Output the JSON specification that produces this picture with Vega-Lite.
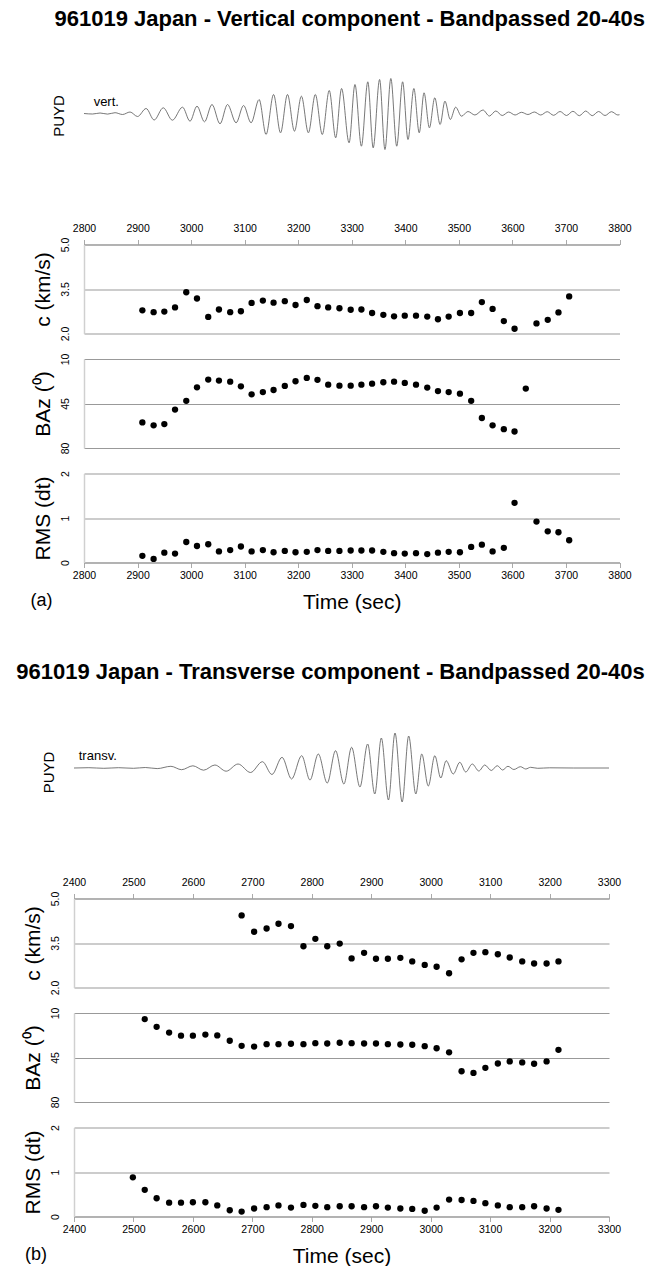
{
  "$schema": "https://vega.github.io/schema/vega-lite/v6.json",
  "background": "white",
  "padding": {"left": 16, "top": 7, "right": 0, "bottom": 0},
  "spacing": 25.5,
  "bounds": "flush",
  "resolve": {"scale": {"x": "independent", "y": "independent"}},
  "config": {
    "font": "Liberation Sans",
    "view": {"stroke": null},
    "axis": {
      "labelFontSize": 10.5,
      "labelColor": "#000",
      "titleFontSize": 21,
      "titleFontWeight": "normal",
      "titleColor": "#000",
      "gridColor": "#999",
      "gridWidth": 1,
      "domainColor": "#999",
      "tickColor": "#aaa",
      "labelOverlap": false
    },
    "axisY": {"labelAngle": -90, "ticks": false, "labelPadding": 13.5, "domainColor": "#d0d0d0", "domainWidth": 1.5, "grid": true, "titlePadding": 7, "tickCount": 3},
    "axisX": {"grid": false, "tickSize": 5, "labelFlush": false, "format": "d"},
    "title": {"color": "#000"}
  },
  "datasets": {
    "vertical": [
      {"t": 2909, "c": 2.78, "baz": 59.9, "rms": 0.15},
      {"t": 2930, "c": 2.72, "baz": 62.2, "rms": 0.08},
      {"t": 2950, "c": 2.74, "baz": 61.2, "rms": 0.22},
      {"t": 2970, "c": 2.88, "baz": 49.8, "rms": 0.2},
      {"t": 2991, "c": 3.39, "baz": 42.9, "rms": 0.46},
      {"t": 3011, "c": 3.18, "baz": 32.3, "rms": 0.37},
      {"t": 3032, "c": 2.56, "baz": 26.2, "rms": 0.41},
      {"t": 3052, "c": 2.81, "baz": 27.0, "rms": 0.25},
      {"t": 3073, "c": 2.72, "baz": 27.8, "rms": 0.28},
      {"t": 3093, "c": 2.75, "baz": 31.5, "rms": 0.36},
      {"t": 3113, "c": 3.03, "baz": 37.8, "rms": 0.25},
      {"t": 3134, "c": 3.11, "baz": 36.0, "rms": 0.28},
      {"t": 3154, "c": 3.04, "baz": 34.4, "rms": 0.23},
      {"t": 3175, "c": 3.09, "baz": 31.2, "rms": 0.26},
      {"t": 3195, "c": 2.96, "baz": 27.5, "rms": 0.23},
      {"t": 3216, "c": 3.13, "baz": 24.9, "rms": 0.24},
      {"t": 3236, "c": 2.92, "baz": 26.4, "rms": 0.28},
      {"t": 3256, "c": 2.88, "baz": 30.2, "rms": 0.26},
      {"t": 3277, "c": 2.85, "baz": 31.0, "rms": 0.26},
      {"t": 3298, "c": 2.8, "baz": 31.0, "rms": 0.27},
      {"t": 3318, "c": 2.81, "baz": 30.2, "rms": 0.27},
      {"t": 3338, "c": 2.69, "baz": 29.4, "rms": 0.27},
      {"t": 3359, "c": 2.63, "baz": 28.3, "rms": 0.24},
      {"t": 3379, "c": 2.58, "baz": 27.8, "rms": 0.21},
      {"t": 3399, "c": 2.6, "baz": 28.8, "rms": 0.2},
      {"t": 3420, "c": 2.6, "baz": 30.2, "rms": 0.21},
      {"t": 3441, "c": 2.57, "baz": 32.5, "rms": 0.19},
      {"t": 3461, "c": 2.48, "baz": 35.2, "rms": 0.22},
      {"t": 3481, "c": 2.57, "baz": 36.0, "rms": 0.24},
      {"t": 3502, "c": 2.69, "baz": 37.3, "rms": 0.23},
      {"t": 3523, "c": 2.69, "baz": 42.9, "rms": 0.35},
      {"t": 3543, "c": 3.06, "baz": 56.4, "rms": 0.4},
      {"t": 3563, "c": 2.83, "baz": 62.2, "rms": 0.25},
      {"t": 3584, "c": 2.42, "baz": 65.2, "rms": 0.33},
      {"t": 3604, "c": 2.16, "baz": 67.0, "rms": 1.34},
      {"t": 3625, "c": null, "baz": 33.3, "rms": null},
      {"t": 3645, "c": 2.34, "baz": null, "rms": 0.92},
      {"t": 3666, "c": 2.46, "baz": null, "rms": 0.7},
      {"t": 3686, "c": 2.71, "baz": null, "rms": 0.68},
      {"t": 3706, "c": 3.25, "baz": null, "rms": 0.5}
    ],
    "transverse": [
      {"t": 2499, "c": null, "baz": null, "rms": 0.88},
      {"t": 2519, "c": null, "baz": 14.8, "rms": 0.6},
      {"t": 2539, "c": null, "baz": 20.9, "rms": 0.41},
      {"t": 2560, "c": null, "baz": 25.4, "rms": 0.31},
      {"t": 2580, "c": null, "baz": 27.8, "rms": 0.31},
      {"t": 2600, "c": null, "baz": 27.8, "rms": 0.32},
      {"t": 2621, "c": null, "baz": 27.0, "rms": 0.32},
      {"t": 2641, "c": null, "baz": 27.6, "rms": 0.25},
      {"t": 2662, "c": null, "baz": 31.8, "rms": 0.14},
      {"t": 2682, "c": 4.43, "baz": 35.8, "rms": 0.11},
      {"t": 2703, "c": 3.88, "baz": 36.4, "rms": 0.18},
      {"t": 2724, "c": 3.99, "baz": 34.5, "rms": 0.21},
      {"t": 2744, "c": 4.15, "baz": 34.5, "rms": 0.25},
      {"t": 2765, "c": 4.07, "baz": 34.2, "rms": 0.2},
      {"t": 2786, "c": 3.39, "baz": 34.5, "rms": 0.26},
      {"t": 2806, "c": 3.64, "baz": 33.7, "rms": 0.24},
      {"t": 2826, "c": 3.39, "baz": 34.0, "rms": 0.21},
      {"t": 2847, "c": 3.48, "baz": 33.4, "rms": 0.23},
      {"t": 2867, "c": 2.98, "baz": 33.7, "rms": 0.23},
      {"t": 2888, "c": 3.17, "baz": 34.0, "rms": 0.21},
      {"t": 2908, "c": 2.97, "baz": 34.0, "rms": 0.23},
      {"t": 2928, "c": 2.97, "baz": 34.5, "rms": 0.2},
      {"t": 2949, "c": 3.0, "baz": 34.8, "rms": 0.18},
      {"t": 2969, "c": 2.88, "baz": 35.0, "rms": 0.17},
      {"t": 2990, "c": 2.76, "baz": 36.1, "rms": 0.13},
      {"t": 3010, "c": 2.7, "baz": 37.7, "rms": 0.2},
      {"t": 3031, "c": 2.48, "baz": 40.9, "rms": 0.38},
      {"t": 3052, "c": 2.95, "baz": 55.8, "rms": 0.37},
      {"t": 3072, "c": 3.17, "baz": 57.1, "rms": 0.35},
      {"t": 3092, "c": 3.19, "baz": 53.1, "rms": 0.3},
      {"t": 3113, "c": 3.12, "baz": 49.7, "rms": 0.25},
      {"t": 3133, "c": 3.01, "baz": 48.1, "rms": 0.21},
      {"t": 3154, "c": 2.88, "baz": 48.9, "rms": 0.21},
      {"t": 3174, "c": 2.81, "baz": 49.9, "rms": 0.23},
      {"t": 3195, "c": 2.81, "baz": 48.1, "rms": 0.18},
      {"t": 3215, "c": 2.88, "baz": 39.0, "rms": 0.15}
    ],
    "trace_vert": [
      {"t": 2800, "amp": 0}, {"t": 2816, "amp": -0.5}, {"t": 2830, "amp": 0.5}, {"t": 2844, "amp": -0.6},
      {"t": 2858, "amp": 0.8}, {"t": 2872, "amp": -1}, {"t": 2886, "amp": 1.5}, {"t": 2900, "amp": -3},
      {"t": 2916, "amp": 5}, {"t": 2931, "amp": -6.5}, {"t": 2948, "amp": 5.7}, {"t": 2965, "amp": -6.7},
      {"t": 2984, "amp": 6.3}, {"t": 2998, "amp": -7.7}, {"t": 3011, "amp": 7.3}, {"t": 3025, "amp": -8.3},
      {"t": 3039, "amp": 9}, {"t": 3054, "amp": -10.3}, {"t": 3068, "amp": 9}, {"t": 3084, "amp": -9.3},
      {"t": 3098, "amp": 8}, {"t": 3112, "amp": -9.3}, {"t": 3127, "amp": 14}, {"t": 3140, "amp": -21},
      {"t": 3154, "amp": 19}, {"t": 3167, "amp": -19.3}, {"t": 3180, "amp": 19}, {"t": 3193, "amp": -17.7},
      {"t": 3206, "amp": 17.3}, {"t": 3219, "amp": -19.3}, {"t": 3232, "amp": 19}, {"t": 3245, "amp": -21},
      {"t": 3258, "amp": 23}, {"t": 3270, "amp": -24.3}, {"t": 3281, "amp": 25}, {"t": 3295, "amp": -29.3},
      {"t": 3306, "amp": 29}, {"t": 3318, "amp": -32.7}, {"t": 3330, "amp": 31.7}, {"t": 3340, "amp": -34.3},
      {"t": 3352, "amp": 34}, {"t": 3362, "amp": -36}, {"t": 3373, "amp": 35}, {"t": 3384, "amp": -32.7},
      {"t": 3395, "amp": 31.7}, {"t": 3405, "amp": -26}, {"t": 3416, "amp": 25}, {"t": 3426, "amp": -19.3},
      {"t": 3435, "amp": 20.7}, {"t": 3445, "amp": -14.3}, {"t": 3455, "amp": 15.7}, {"t": 3465, "amp": -11},
      {"t": 3474, "amp": 12.3}, {"t": 3484, "amp": -6}, {"t": 3494, "amp": 6.3}, {"t": 3505, "amp": -2.7},
      {"t": 3517, "amp": 2}, {"t": 3530, "amp": -1.5}, {"t": 3545, "amp": 3.5}, {"t": 3557, "amp": -2.5},
      {"t": 3569, "amp": 2.5}, {"t": 3581, "amp": -2}, {"t": 3593, "amp": 1.5}, {"t": 3605, "amp": -1.5},
      {"t": 3617, "amp": 1.2}, {"t": 3629, "amp": -1}, {"t": 3641, "amp": 1.5}, {"t": 3653, "amp": -1.5},
      {"t": 3665, "amp": 1.8}, {"t": 3677, "amp": -1.8}, {"t": 3689, "amp": 2}, {"t": 3701, "amp": -2},
      {"t": 3713, "amp": 2.2}, {"t": 3725, "amp": -2.2}, {"t": 3737, "amp": 2.5}, {"t": 3749, "amp": -2.2},
      {"t": 3761, "amp": 2}, {"t": 3773, "amp": -2}, {"t": 3785, "amp": 1.8}, {"t": 3797, "amp": -1.5},
      {"t": 3800, "amp": -1.2}
    ],
    "trace_trans": [
      {"t": 2400, "amp": 0}, {"t": 2425, "amp": 0.3}, {"t": 2450, "amp": -0.3}, {"t": 2475, "amp": 0.3},
      {"t": 2500, "amp": -0.3}, {"t": 2520, "amp": 0.5}, {"t": 2540, "amp": -0.6}, {"t": 2563, "amp": 1.7},
      {"t": 2581, "amp": -1.7}, {"t": 2600, "amp": 2.2}, {"t": 2618, "amp": -2.2}, {"t": 2637, "amp": 3},
      {"t": 2656, "amp": -3.2}, {"t": 2676, "amp": 4}, {"t": 2697, "amp": -4.5}, {"t": 2717, "amp": 6.3},
      {"t": 2733, "amp": -6.5}, {"t": 2750, "amp": 10.7}, {"t": 2766, "amp": -11}, {"t": 2783, "amp": 12.3},
      {"t": 2797, "amp": -12}, {"t": 2811, "amp": 14}, {"t": 2826, "amp": -15}, {"t": 2840, "amp": 17.3},
      {"t": 2854, "amp": -16}, {"t": 2867, "amp": 20.7}, {"t": 2881, "amp": -19}, {"t": 2894, "amp": 24},
      {"t": 2906, "amp": -26}, {"t": 2917, "amp": 30}, {"t": 2929, "amp": -32}, {"t": 2940, "amp": 35},
      {"t": 2952, "amp": -34}, {"t": 2963, "amp": 32}, {"t": 2975, "amp": -26}, {"t": 2985, "amp": 14},
      {"t": 2996, "amp": -18}, {"t": 3007, "amp": 12.3}, {"t": 3017, "amp": -10}, {"t": 3026, "amp": 7.3},
      {"t": 3038, "amp": -6}, {"t": 3049, "amp": 5.7}, {"t": 3059, "amp": -4}, {"t": 3070, "amp": 4},
      {"t": 3081, "amp": -3}, {"t": 3091, "amp": 3}, {"t": 3102, "amp": -2.5}, {"t": 3112, "amp": 2.3},
      {"t": 3121, "amp": -2}, {"t": 3130, "amp": 1.7}, {"t": 3140, "amp": -1.5}, {"t": 3151, "amp": 1.3},
      {"t": 3160, "amp": -1}, {"t": 3168, "amp": 0.7}, {"t": 3180, "amp": -0.3}, {"t": 3200, "amp": 0.2},
      {"t": 3240, "amp": 0}, {"t": 3300, "amp": 0}
    ]
  },
  "vconcat": [
    {
      "width": 545.5,
      "height": 150,
      "title": {"text": "961019 Japan - Vertical component - Bandpassed 20-40s", "fontSize": 22, "fontWeight": "bold", "anchor": "middle", "frame": "group", "offset": 38.5, "dx": 3},
      "layer": [
        {
          "data": {"name": "trace_vert"},
          "mark": {"type": "line", "interpolate": "monotone", "color": "#555", "strokeWidth": 0.8},
          "encoding": {
            "x": {"field": "t", "type": "quantitative", "scale": {"domain": [2800, 3800], "range": [10, 545.5], "nice": false, "zero": false}, "axis": null},
            "y": {"field": "amp", "type": "quantitative", "scale": {"domain": [-105.5, 44.5], "nice": false, "zero": false},
                  "axis": {"title": "PUYD", "offset": -10, "domain": false, "ticks": false, "labels": false, "grid": false, "titleFontSize": 15, "titlePadding": 18, "titleY": 46.5}}
          }
        },
        {
          "data": {"values": [{}]},
          "mark": {"type": "text", "text": "vert.", "align": "left", "baseline": "middle", "fontSize": 13, "color": "#000"},
          "encoding": {"x": {"datum": 2818}, "y": {"datum": 12}}
        }
      ]
    },
    {
      "width": 545.5,
      "height": 89,
      "data": {"name": "vertical"},
      "mark": {"type": "circle", "size": 40, "color": "#000", "opacity": 1},
      "encoding": {
        "x": {"field": "t", "type": "quantitative", "scale": {"domain": [2800, 3800], "range": [10, 545.5], "nice": false, "zero": false},
              "axis": {"orient": "top", "values": [2800, 2900, 3000, 3100, 3200, 3300, 3400, 3500, 3600, 3700, 3800], "title": null, "labelPadding": 6}},
        "y": {"field": "c", "type": "quantitative", "scale": {"domain": [2, 5], "nice": false, "zero": false},
              "axis": {"values": [2, 3.5, 5], "format": ".1f", "title": "c (km/s)", "offset": -10}}
      }
    },
    {
      "width": 545.5,
      "height": 89,
      "data": {"name": "vertical"},
      "mark": {"type": "circle", "size": 40, "color": "#000", "opacity": 1},
      "encoding": {
        "x": {"field": "t", "type": "quantitative", "scale": {"domain": [2800, 3800], "range": [10, 545.5], "nice": false, "zero": false}, "axis": null},
        "y": {"field": "baz", "type": "quantitative", "scale": {"domain": [10, 80], "reverse": true, "nice": false, "zero": false},
              "axis": {"values": [10, 45, 80], "format": "d", "title": "BAz (⁰)", "offset": -10}}
      }
    },
    {
      "width": 545.5,
      "height": 89,
      "title": {"text": "(a)", "orient": "bottom", "anchor": "start", "frame": "group", "fontSize": 18, "fontWeight": "normal", "offset": -20, "dx": -43.5},
      "data": {"name": "vertical"},
      "mark": {"type": "circle", "size": 40, "color": "#000", "opacity": 1},
      "encoding": {
        "x": {"field": "t", "type": "quantitative", "scale": {"domain": [2800, 3800], "range": [10, 545.5], "nice": false, "zero": false},
              "axis": {"orient": "bottom", "values": [2800, 2900, 3000, 3100, 3200, 3300, 3400, 3500, 3600, 3700, 3800], "title": "Time (sec)", "labelPadding": 3, "titlePadding": 10}},
        "y": {"field": "rms", "type": "quantitative", "scale": {"domain": [0, 2], "nice": false, "zero": false},
              "axis": {"values": [0, 1, 2], "format": ".0f", "title": "RMS (dt)", "offset": -10}}
      }
    },
    {
      "width": 535,
      "height": 284.5,
      "title": {"text": "961019 Japan - Transverse component - Bandpassed 20-40s", "fontSize": 22, "fontWeight": "bold", "anchor": "middle", "frame": "group", "offset": -96, "dx": -11},
      "layer": [
        {
          "data": {"name": "trace_trans"},
          "mark": {"type": "line", "interpolate": "monotone", "color": "#555", "strokeWidth": 0.8},
          "encoding": {
            "x": {"field": "t", "type": "quantitative", "scale": {"domain": [2400, 3300], "nice": false, "zero": false}, "axis": null},
            "y": {"field": "amp", "type": "quantitative", "scale": {"domain": [-104.5, 180], "nice": false, "zero": false},
                  "axis": {"title": "PUYD", "domain": false, "ticks": false, "labels": false, "grid": false, "titleFontSize": 15, "titlePadding": 18, "titleY": 184}}
          }
        },
        {
          "data": {"values": [{}]},
          "mark": {"type": "text", "text": "transv.", "align": "left", "baseline": "middle", "fontSize": 13, "color": "#000"},
          "encoding": {"x": {"datum": 2408}, "y": {"datum": 12}}
        }
      ]
    },
    {
      "width": 535,
      "height": 89,
      "data": {"name": "transverse"},
      "mark": {"type": "circle", "size": 40, "color": "#000", "opacity": 1},
      "encoding": {
        "x": {"field": "t", "type": "quantitative", "scale": {"domain": [2400, 3300], "nice": false, "zero": false},
              "axis": {"orient": "top", "values": [2400, 2500, 2600, 2700, 2800, 2900, 3000, 3100, 3200, 3300], "title": null, "labelPadding": 6}},
        "y": {"field": "c", "type": "quantitative", "scale": {"domain": [2, 5], "nice": false, "zero": false},
              "axis": {"values": [2, 3.5, 5], "format": ".1f", "title": "c (km/s)"}}
      }
    },
    {
      "width": 535,
      "height": 89,
      "data": {"name": "transverse"},
      "mark": {"type": "circle", "size": 40, "color": "#000", "opacity": 1},
      "encoding": {
        "x": {"field": "t", "type": "quantitative", "scale": {"domain": [2400, 3300], "nice": false, "zero": false}, "axis": null},
        "y": {"field": "baz", "type": "quantitative", "scale": {"domain": [10, 80], "reverse": true, "nice": false, "zero": false},
              "axis": {"values": [10, 45, 80], "format": "d", "title": "BAz (⁰)"}}
      }
    },
    {
      "width": 535,
      "height": 89,
      "title": {"text": "(b)", "orient": "bottom", "anchor": "start", "frame": "group", "fontSize": 18, "fontWeight": "normal", "offset": -20, "dx": -49},
      "data": {"name": "transverse"},
      "mark": {"type": "circle", "size": 40, "color": "#000", "opacity": 1},
      "encoding": {
        "x": {"field": "t", "type": "quantitative", "scale": {"domain": [2400, 3300], "nice": false, "zero": false},
              "axis": {"orient": "bottom", "values": [2400, 2500, 2600, 2700, 2800, 2900, 3000, 3100, 3200, 3300], "title": "Time (sec)", "labelPadding": 3, "titlePadding": 10}},
        "y": {"field": "rms", "type": "quantitative", "scale": {"domain": [0, 2], "nice": false, "zero": false},
              "axis": {"values": [0, 1, 2], "format": ".0f", "title": "RMS (dt)"}}
      }
    }
  ]
}
